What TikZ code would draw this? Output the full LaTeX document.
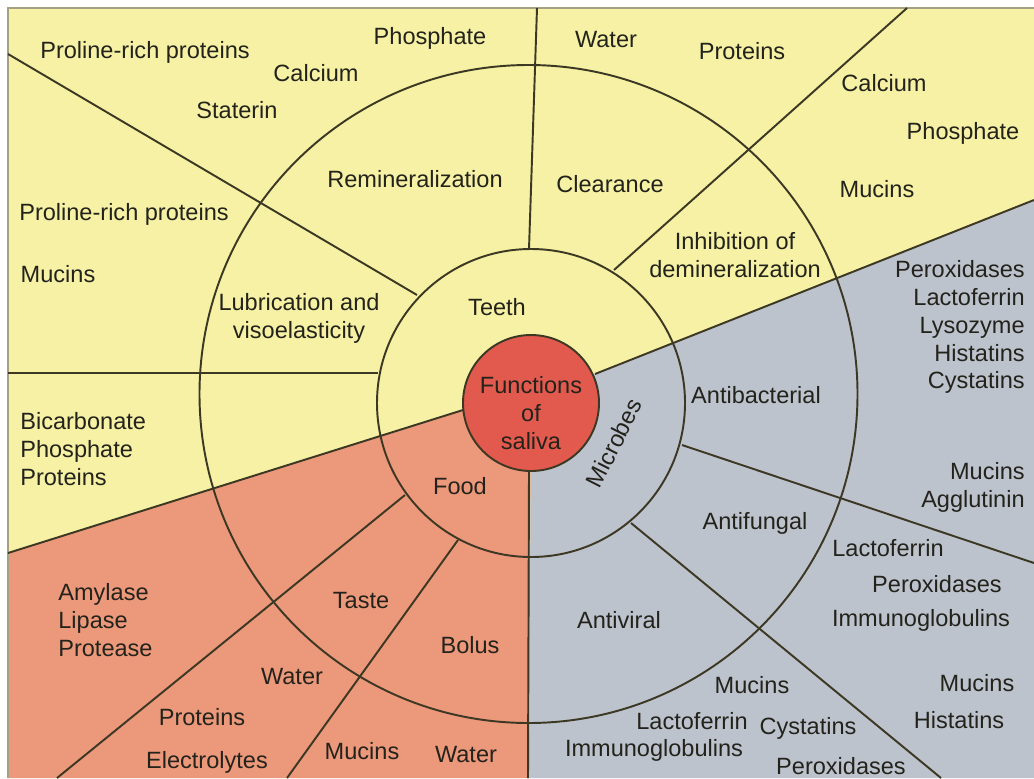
\documentclass[tikz,border=0pt]{standalone}
\usepackage{fontspec}
\setmainfont{Liberation Sans}
\usepackage{tikz}
\usetikzlibrary{positioning}
\definecolor{salivayellow}{RGB}{246,241,164}
\definecolor{salivasalmon}{RGB}{236,152,122}
\definecolor{salivagrey}{RGB}{189,195,205}
\definecolor{salivared}{RGB}{226,90,78}
\definecolor{salivaline}{RGB}{60,56,36}
\definecolor{salivaframe}{RGB}{165,160,130}
\definecolor{salivatext}{RGB}{35,35,28}
\newcommand{\salivafont}{\fontsize{13.4}{15.9}\selectfont}

\begin{document}
\begin{tikzpicture}[
    x=0.02cm, y=-0.02cm,
    every node/.style={font=\salivafont, text=salivatext, inner sep=0pt},
    divider/.style={draw=salivaline, line width=1.1pt},
    listleft/.style={anchor=west, align=left},
    listright/.style={anchor=east, align=right},
    twoline/.style={align=center}
]

\useasboundingbox (0,0) rectangle (1034,778);

% Panel
\fill[white] (0,0) rectangle (1034,778);
\fill[salivayellow] (8,8) rectangle (1034,778);

% Food sector
\fill[salivasalmon] (8,553) -- (463,410) -- (531,403) -- (529,778) -- (8,778) -- cycle;

% Microbes sector
\fill[salivagrey] (531,403) -- (595,374) -- (1034,200) -- (1034,778) -- (529,778) -- cycle;

% Frame
\draw[salivaframe, line width=1.6pt] (8,778) -- (8,8) -- (1034,8);

% Sector borders
\draw[divider] (595,374) -- (1034,200);
\draw[divider] (463,410) -- (8,553);
\draw[divider] (529,471) -- (528,778);

% Teeth dividers
\draw[divider] (8,54) -- (417,295);
\draw[divider] (8,373) -- (378,373);
\draw[divider] (537,8) -- (529,249);
\draw[divider] (614,270) -- (907,8);

% Food dividers
\draw[divider] (405,495) -- (57,778);
\draw[divider] (458,540) -- (287,778);

% Microbes dividers
\draw[divider] (682,445) -- (1034,563);
\draw[divider] (631,523) -- (941,778);

% Rings
\draw[divider] (528.5,394) circle (329);
\draw[divider] (531,403) circle (154);
\draw[divider, fill=salivared] (531,403) circle (68);

% Centre
\node[twoline] (functions) at (531,413) {Functions\\of\\saliva};
\node (teeth) at (497,307) {Teeth};
\node (food) at (460,486) {Food};
\node[rotate=63] (microbes) at (614,443) {Microbes};

% Teeth
\node (remin) at (415,179) {Remineralization};
\node (clear) at (610,184) {Clearance};
\node[twoline] (lubric) at (299,318) {Lubrication and\\visoelasticity};
\node[twoline] (inhib) at (735,255) {Inhibition of\\demineralization};
\foreach \x/\y/\name/\txt in {145/52/prp/Proline-rich proteins, 430/38/phos/Phosphate,
    316/73/calc/Calcium, 237/110/stat/Staterin, 124/214/prpb/Proline-rich proteins,
    58/274/muc/Mucins, 606/40/wat/Water, 742/51/prot/Proteins, 884/83/calcb/Calcium,
    963/133/phosb/Phosphate, 877/189/mucb/Mucins}
    \node (\name) at (\x,\y) {\txt};
\node[listleft] (buffer) at (20,449) {Bicarbonate\\Phosphate\\Proteins};

% Microbes
\node (antibac) at (756,395) {Antibacterial};
\node (antifun) at (755,523) {Antifungal};
\node (antivir) at (619,620) {Antiviral};
\node[listright] (bacl) at (1025,327) {Peroxidases\\Lactoferrin\\Lysozyme\\Histatins\\Cystatins};
\node[listright] (bacm) at (1025,487) {Mucins\\Agglutinin};
\foreach \x/\y/\name/\txt in {888/548/funl/Lactoferrin, 937/584/funp/Peroxidases,
    921/620/funi/Immunoglobulins, 752/685/virm/Mucins, 692/721/virl/Lactoferrin,
    808/728/virc/Cystatins, 654/750/viri/Immunoglobulins, 841/766/virp/Peroxidases,
    977/683/funm/Mucins, 959/720/funh/Histatins}
    \node (\name) at (\x,\y) {\txt};

% Food
\node (taste) at (361,601) {Taste};
\node (bolus) at (470,645) {Bolus};
\node[listleft] (enzymes) at (58,620) {Amylase\\Lipase\\Protease};
\foreach \x/\y/\name/\txt in {292/677/tw/Water, 202/717/tp/Proteins,
    207/762/te/Electrolytes, 362/751/bm/Mucins, 466/755/bw/Water}
    \node (\name) at (\x,\y) {\txt};

\end{tikzpicture}
\end{document}
